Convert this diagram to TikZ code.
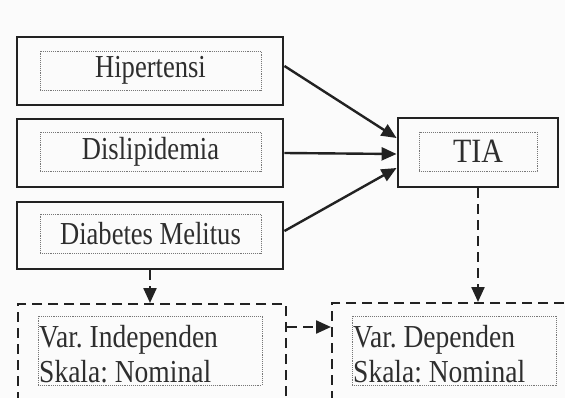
\documentclass[tikz,border=0pt]{standalone}
\usepackage{fontspec}
\setmainfont{Liberation Serif}[FakeStretch=0.83]
\newfontfamily\widerfont{Liberation Serif}[FakeStretch=0.86]
\newfontfamily\tiafont{Liberation Serif}[FakeStretch=0.88]
\usetikzlibrary{arrows.meta,calc}
\definecolor{ink}{HTML}{222222}
\definecolor{txt}{HTML}{2E2E2E}
\definecolor{dotc}{HTML}{777777}
\definecolor{bg}{HTML}{FBFBFB}
\frenchspacing
\begin{document}
\begin{tikzpicture}[x=1pt,y=-1pt,
  outerbox/.style={draw=ink, line width=2.9pt, rectangle, inner sep=0pt, minimum width=266pt, minimum height=68pt},
  innerbox/.style={draw=dotc, densely dotted, line width=0.9pt, rectangle, inner sep=0pt, minimum width=221pt, minimum height=39pt, text=txt, font=\fontsize{32}{35}\selectfont},
  label/.style={text=txt, font=\widerfont\fontsize{32}{35}\selectfont, inner sep=0pt, anchor=base west},
  dashbox/.style={draw=ink, line width=2.3pt, dash pattern=on 10pt off 6pt, rectangle, inner sep=0pt},
  solidarrow/.style={draw=ink, line width=2.4pt, -{Triangle[length=15pt,width=13pt]}},
  dasharrow/.style={draw=ink, line width=2.3pt, dash pattern=on 10pt off 6pt, -{Triangle[length=15pt,width=13pt]}}
]
\useasboundingbox (0,0) rectangle (565,398);
\fill[bg] (0,0) rectangle (565,398);
\clip (0,0) rectangle (565,398);

% left column
\node[outerbox] (h) at (150,71) {};
\node[innerbox] (hi) at (150.5,70.5) {Hipertensi};
\node[outerbox] (d) at (150,153) {};
\node[innerbox] (di) at (150.5,152) {Dislipidemia};
\node[outerbox, minimum height=67pt] (m) at (150,235.5) {};
\node[innerbox] (mi) at (150.5,233.5) {Diabetes Melitus};

% TIA
\node[outerbox, minimum width=160pt, minimum height=69pt] (t) at (478,152.5) {};
\node[innerbox, minimum width=118pt, font=\tiafont\fontsize{34}{36}\selectfont] (ti) at (478,151.5) {TIA};

% dashed boxes (run off the picture)
\node[dashbox, minimum width=268pt, minimum height=160pt, anchor=north west] (iv) at (17,303) {};
\node[innerbox, minimum width=224pt, minimum height=69pt] (ivi) at (150,350.5) {};
\node[label] (iv1) at (39,347) {Var. Independen};
\node[label] (iv2) at (39,382) {Skala: Nominal};
\node[dashbox, minimum width=300pt, minimum height=160pt, anchor=north west] (dv) at (331,302) {};
\node[innerbox, minimum width=204pt, minimum height=69pt] (dvi) at (454,350.5) {};
\node[label] (dv1) at (353,347) {Var. Dependen};
\node[label] (dv2) at (353,382) {Skala: Nominal};

% arrows
\draw[solidarrow] ($(h.east)+(0,-5)$) -- ($(t.west)+(0,-14.5)$);
\draw[solidarrow] (d.east) -- ($(t.west)+(0,1.5)$);
\draw[solidarrow] ($(m.east)+(0,-4.5)$) -- ($(t.west)+(0,15.5)$);
\draw[dasharrow] (t.south) -- (t.south |- dv.north);
\draw[dasharrow] (m.south) -- (m.south |- iv.north);
\coordinate (mid) at (0,327);
\draw[dasharrow] (iv.east |- mid) -- (dv.west |- mid);
\end{tikzpicture}
\end{document}
